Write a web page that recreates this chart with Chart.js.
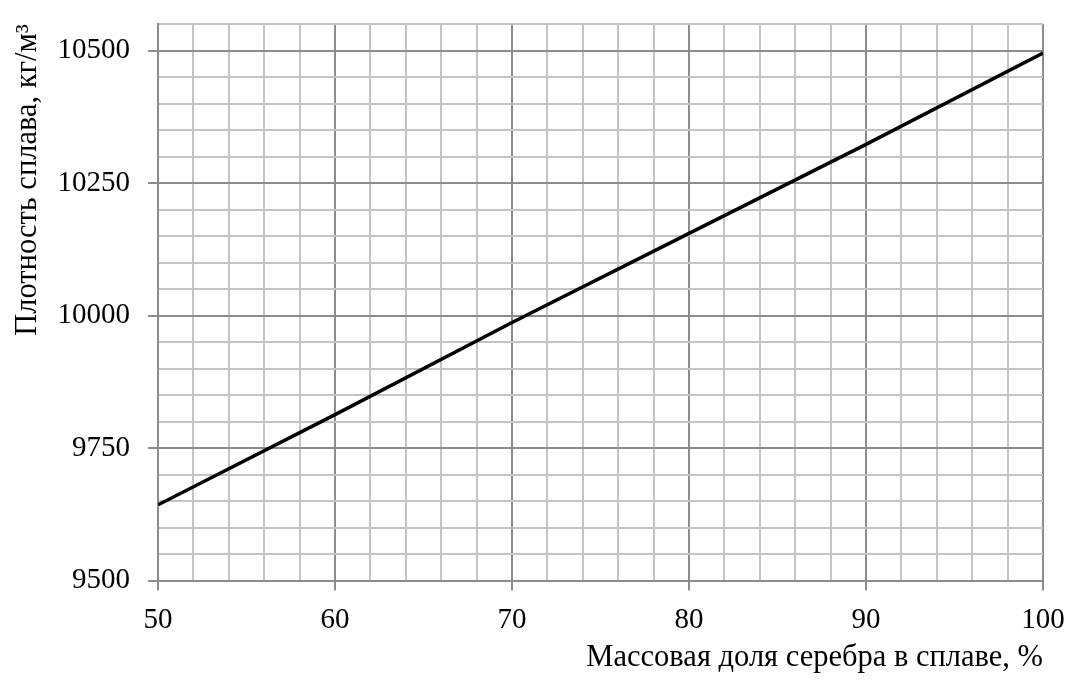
<!DOCTYPE html>
<html>
<head>
<meta charset="utf-8">
<script src="https://cdn.jsdelivr.net/npm/chart.js@4/dist/chart.umd.min.js"></script>
<style>
  body { margin: 0; background: #fff; }
  #wrap { width: 1070px; height: 689px; }
</style>
</head>
<body>
<div id="wrap"><canvas id="chartLine"></canvas></div>
<script>
// массовая доля серебра, % и плотность сплава, кг/м3
const silverShare = [50, 60, 70, 80, 90, 100];
const density = [9643, 9813, 9987, 10155, 10323, 10495];

const xTitle = 'Массовая доля серебра в сплаве, %';
const yTitle = 'Плотность сплава, кг/м³';

const majorColor = '#8c8c8c';
const minorColor = '#c4c4c4';
const serif = 'Liberation Serif';

const points = silverShare.map((x, i) => ({ x: x, y: density[i] }));

// убираем автоматические поля под крайние подписи, поля задаём сами
function noEdgePadding(scale) {
    scale.paddingTop = 0;
    scale.paddingBottom = 0;
    scale.paddingLeft = 0;
    scale.paddingRight = 0;
}

const ctx = document.getElementById('chartLine').getContext('2d');
new Chart(ctx, {
    type: 'line',
    data: {
        datasets: [{
            data: points,
            borderColor: '#000',
            borderWidth: 3.5,
            pointRadius: 0,
            tension: 0,
            fill: false
        }]
    },
    options: {
        responsive: true,
        maintainAspectRatio: false,
        animation: false,
        layout: { padding: { top: 24, right: 27, left: 10, bottom: 9 } },
        plugins: {
            legend: { display: false },
            tooltip: { enabled: false }
        },
        scales: {
            x: {
                type: 'linear',
                min: 50,
                max: 100,
                afterFit: noEdgePadding,
                ticks: {
                    stepSize: 2,
                    autoSkip: false,
                    maxRotation: 0,
                    color: '#000',
                    padding: 12,
                    font: { family: serif, size: 29 },
                    callback: v => (v % 10 === 0 ? v : '')
                },
                grid: {
                    color: c => (c.tick && c.tick.value % 10 === 0 ? majorColor : minorColor),
                    tickColor: c => (c.tick && c.tick.value % 10 === 0 ? majorColor : 'rgba(0,0,0,0)'),
                    lineWidth: 2,
                    tickLength: 10
                },
                border: { color: majorColor, width: 2 },
                title: {
                    display: true,
                    text: xTitle,
                    align: 'end',
                    color: '#000',
                    font: { family: serif, size: 30.5 },
                    padding: { top: -10, bottom: 4 }
                }
            },
            y: {
                min: 9500,
                max: 10550,
                afterFit: noEdgePadding,
                ticks: {
                    stepSize: 50,
                    autoSkip: false,
                    color: '#000',
                    padding: 18,
                    font: { family: serif, size: 29 },
                    callback: v => (v % 250 === 0 ? v : '')
                },
                grid: {
                    color: c => (c.tick && c.tick.value % 250 === 0 ? majorColor : minorColor),
                    tickColor: c => (c.tick && c.tick.value % 250 === 0 ? majorColor : 'rgba(0,0,0,0)'),
                    lineWidth: 2,
                    tickLength: 10
                },
                border: { color: majorColor, width: 2 },
                title: {
                    display: true,
                    text: yTitle,
                    align: 'end',
                    color: '#000',
                    font: { family: serif, size: 30.5 },
                    padding: { top: 0, bottom: -7 }
                }
            }
        }
    }
});
</script>
</body>
</html>
